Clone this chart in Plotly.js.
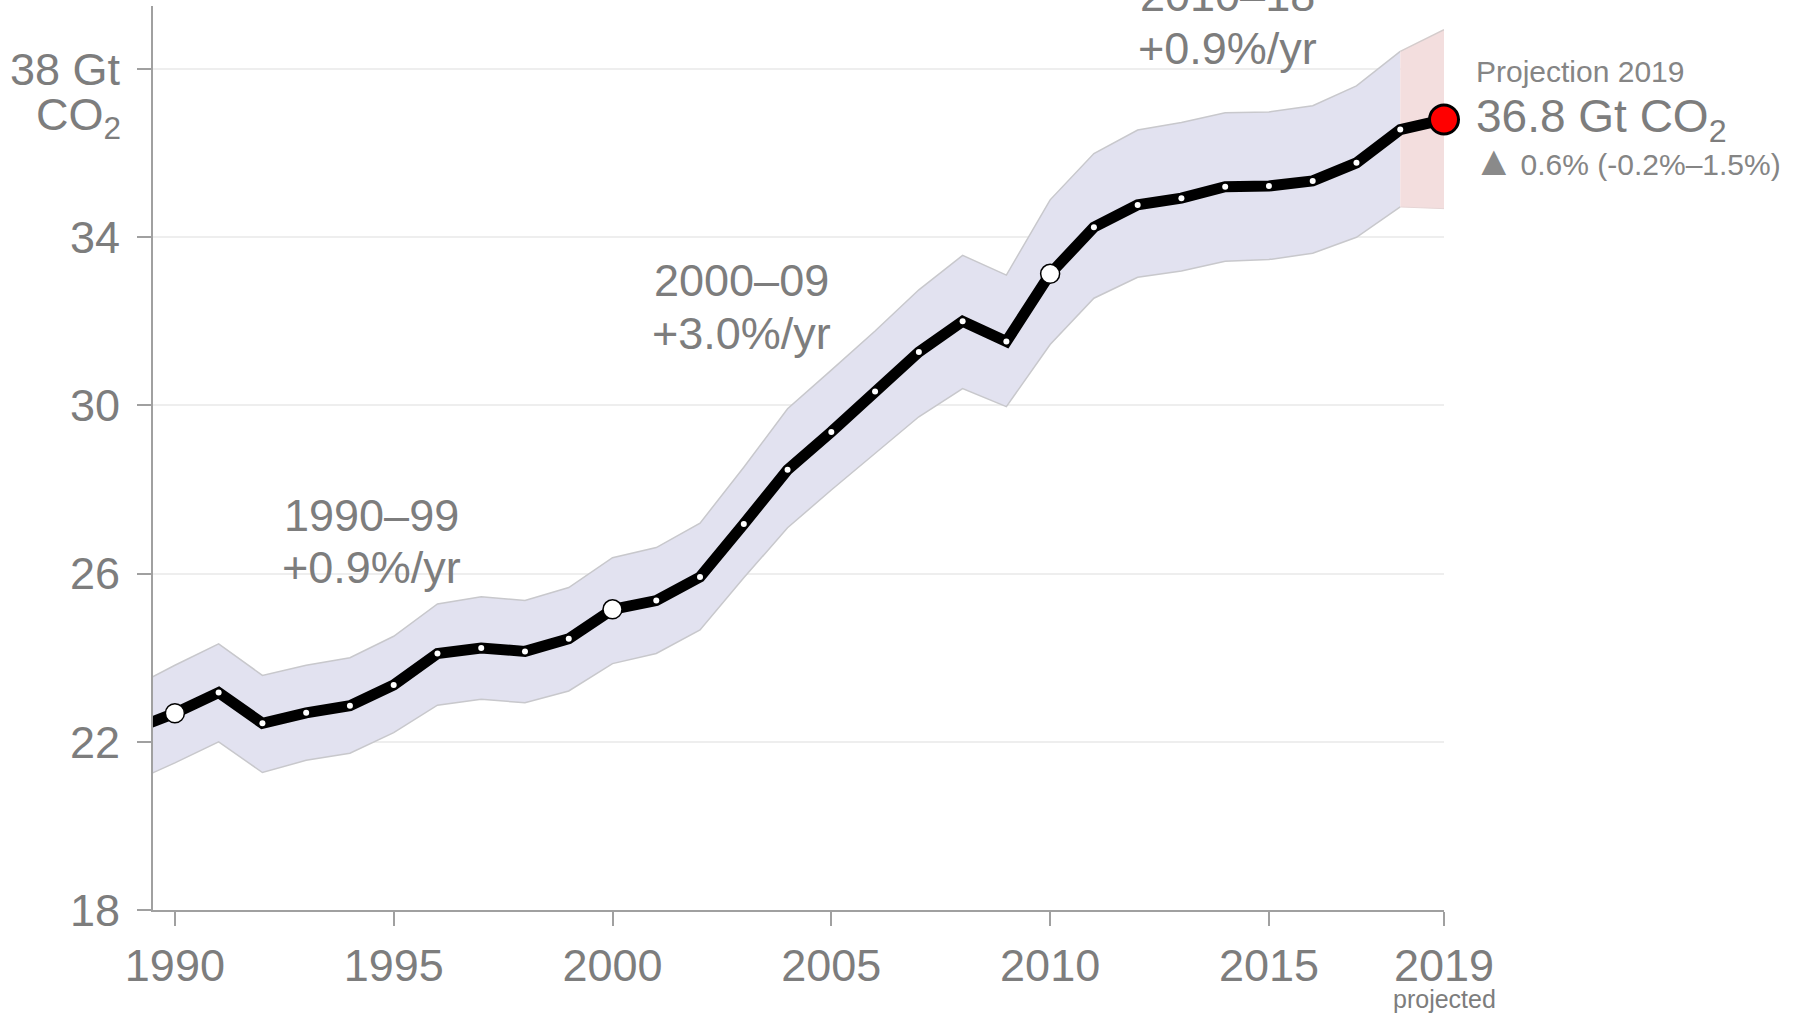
<!DOCTYPE html>
<html><head><meta charset="utf-8">
<script src="https://cdn.plot.ly/plotly-3.0.1.min.js"></script>
<style>html,body{margin:0;padding:0;background:#fff}#chart{width:1797px;height:1016px}</style>
</head><body><div id="chart"></div>
<script>
// Global fossil CO2 emissions (Gt CO2)
const years = [1989,1990,1991,1992,1993,1994,1995,1996,1997,1998,1999,2000,2001,2002,2003,2004,2005,2006,2007,2008,2009,2010,2011,2012,2013,2014,2015,2016,2017,2018];
const emissions = [22.28,22.68,23.17,22.44,22.69,22.86,23.35,24.10,24.23,24.15,24.45,25.15,25.36,25.92,27.18,28.47,29.37,30.33,31.27,32.00,31.52,33.13,34.24,34.77,34.93,35.20,35.22,35.34,35.77,36.56];
const upperBound = [23.28,23.82,24.33,23.58,23.82,24.00,24.51,25.28,25.45,25.36,25.67,26.38,26.62,27.20,28.53,29.92,30.84,31.77,32.75,33.57,33.10,34.89,35.99,36.55,36.73,36.96,36.98,37.13,37.60,38.42];
const lowerBound = [21.03,21.50,22.00,21.27,21.56,21.73,22.22,22.87,23.01,22.93,23.21,23.86,24.10,24.66,25.90,27.09,27.99,28.86,29.73,30.40,29.97,31.45,32.55,33.05,33.20,33.43,33.47,33.62,34.00,34.72];
const projYears = [2018,2019];
const projUpper = [38.42,38.94];
const projLower = [34.72,34.68];
const projValue = 36.8;
const highlightYears = [1990,2000,2010];
const periodLabels = ['1990–99','2000–09','2010–18'];
const periodRates = ['+0.9%/yr','+3.0%/yr','+0.9%/yr'];
const periodCenters = [1994.5,2002.95,2014.05];
const periodY = [27.39,32.96,39.7];
const yTickVals = [18,22,26,30,34,38];
const yTickText = ['18','22','26','30','34','38 Gt'];
const xTickVals = [1990,1995,2000,2005,2010,2015,2019];
const xTickText = ['1990','1995','2000','2005','2010','2015','2019'];
const projectionTitle = 'Projection 2019';
const projectionValueText = '36.8 Gt CO<sub>2</sub>';
const projectionChange = '0.6% (-0.2%–1.5%)';

const FONT = 'Liberation Sans, Arial, sans-serif';
const GREY = '#7d7d7d';

const allYears = years.concat([2019]);
const allVals = emissions.concat([projValue]);
const hlVals = highlightYears.map(y => emissions[years.indexOf(y)]);

const traces = [
  {x: years, y: lowerBound, mode: 'lines', line: {color: '#c8c8cc', width: 1.5}, hoverinfo: 'skip'},
  {x: years, y: upperBound, mode: 'lines', fill: 'tonexty', fillcolor: '#e2e2f0', line: {color: '#c8c8cc', width: 1.5}, hoverinfo: 'skip'},
  {x: projYears, y: projLower, mode: 'lines', line: {color: '#e6d6d6', width: 1}, hoverinfo: 'skip'},
  {x: projYears, y: projUpper, mode: 'lines', fill: 'tonexty', fillcolor: '#f3dede', line: {color: '#d4cccc', width: 1.5}, hoverinfo: 'skip'},
  {x: allYears, y: allVals, mode: 'lines+markers', line: {color: '#000', width: 11},
   marker: {color: '#fff', size: 6, line: {width: 0}}},
  {x: highlightYears, y: hlVals, mode: 'markers', marker: {color: '#fff', size: 19, line: {color: '#000', width: 1.5}}},
  {x: [2019], y: [projValue], mode: 'markers', marker: {color: '#ff0000', size: 29, line: {color: '#000', width: 3}}, cliponaxis: false}
];

const annotations = [];
periodLabels.forEach((lab, i) => {
  const top = periodY[i] > 39.5;
  annotations.push({x: periodCenters[i], y: top ? 38.49 : periodY[i], xref: 'x', yref: 'y', text: lab, showarrow: false,
    yshift: top ? 53 : 0, font: {family: FONT, size: 45, color: GREY}, xanchor: 'center', yanchor: 'middle'});
  annotations.push({x: periodCenters[i], y: top ? 38.49 : periodY[i] - 1.25, xref: 'x', yref: 'y', text: periodRates[i], showarrow: false,
    font: {family: FONT, size: 45, color: GREY}, xanchor: 'center', yanchor: 'middle'});
});
annotations.push({x: 0, xref: 'paper', y: 38, yref: 'y', text: 'CO<sub>2</sub>', showarrow: false, xanchor: 'right', yanchor: 'middle',
  xshift: -30, yshift: -48, font: {family: FONT, size: 45, color: GREY}});
annotations.push({x: 2019, xref: 'x', y: 0, yref: 'paper', text: 'projected', showarrow: false, xanchor: 'center', yanchor: 'middle',
  yshift: -89, font: {family: FONT, size: 25, color: GREY}});
annotations.push({x: 2019, xref: 'x', y: 37.94, yref: 'y', text: projectionTitle, showarrow: false, xanchor: 'left', yanchor: 'middle',
  xshift: 30, font: {family: FONT, size: 30, color: '#858585'}});
annotations.push({x: 2019, xref: 'x', y: projValue, yref: 'y', text: projectionValueText, showarrow: false, xanchor: 'left', yanchor: 'middle',
  xshift: 30, font: {family: FONT, size: 46, color: GREY}});
annotations.push({x: 2019, xref: 'x', y: 35.82, yref: 'y', text: '<span style="font-size:42px;color:#8a8a8a">▲</span>\u2009' + projectionChange, showarrow: false, xanchor: 'left', yanchor: 'middle',
  xshift: 27, font: {family: FONT, size: 30, color: '#858585'}});

const layout = {
  width: 1797, height: 1016,
  margin: {l: 153, r: 353, t: 6, b: 106},
  paper_bgcolor: '#fff', plot_bgcolor: '#fff',
  showlegend: false,
  font: {family: FONT, color: GREY},
  xaxis: {range: [1989.5, 2019], tickvals: xTickVals, ticktext: xTickText, showgrid: false, zeroline: false,
    showline: true, linecolor: '#a0a0a0', linewidth: 2, ticks: 'outside', ticklen: 14, tickwidth: 2, tickcolor: '#a0a0a0',
    tickfont: {family: FONT, size: 45, color: GREY}, ticklabelstandoff: 1},
  yaxis: {range: [18, 39.5], tickvals: yTickVals, ticktext: yTickText, showgrid: true, gridcolor: '#eeeeee', gridwidth: 2,
    zeroline: false, showline: true, linecolor: '#a0a0a0', linewidth: 2, ticks: 'outside', ticklen: 14, tickwidth: 2, tickcolor: '#a0a0a0',
    tickfont: {family: FONT, size: 45, color: GREY}, ticklabelstandoff: 8},
  annotations: annotations
};

Plotly.newPlot('chart', traces, layout, {displayModeBar: false, staticPlot: true});
</script>
</body></html>
